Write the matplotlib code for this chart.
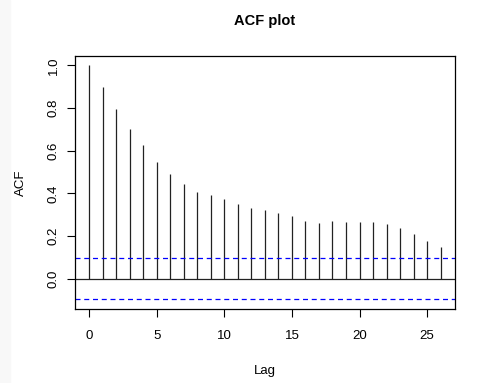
import numpy as np
import matplotlib
matplotlib.use('Agg')
import matplotlib.pyplot as plt
from matplotlib.patches import Rectangle

plt.rcParams['font.family'] = ['Liberation Sans', 'DejaVu Sans']

# autocorrelation values, lags 0..26
lags = list(range(27))
acf_vals = [1.0, 0.899, 0.797, 0.703, 0.627, 0.549, 0.489, 0.444, 0.409,
            0.394, 0.373, 0.352, 0.333, 0.322, 0.308, 0.295, 0.272, 0.262,
            0.269, 0.266, 0.264, 0.266, 0.255, 0.239, 0.211, 0.178, 0.147]
conf_bound = 0.096

fig = plt.figure(figsize=(4.78, 3.83), dpi=100)
# faint grey strip down the left edge
fig.patches.append(Rectangle((0, 0), 10 / 478, 1, transform=fig.transFigure,
                             color='#f8f8f8', zorder=0))
ax = fig.add_axes([75 / 478, 1 - 308.7 / 383, (454.7 - 75) / 478, (308.7 - 56) / 383])

ax.vlines(lags, 0, acf_vals, color='#222222', linewidth=0.9)
ax.axhline(0, color='#222222', linewidth=0.9)
ax.axhline(conf_bound, color='blue', linestyle=(0, (4, 3)), linewidth=0.9)
ax.axhline(-conf_bound, color='blue', linestyle=(0, (4, 3)), linewidth=0.9)

ax.set_xlim(-1.04, 27.04)
ax.set_ylim(-0.14, 1.044)
ax.set_xticks([0, 5, 10, 15, 20, 25])
ax.set_yticks([0.0, 0.2, 0.4, 0.6, 0.8, 1.0])
ax.set_yticklabels(['0.0', '0.2', '0.4', '0.6', '0.8', '1.0'], rotation=90, va='center')
ax.tick_params(axis='x', direction='out', length=6, width=0.8, labelsize=9.5, pad=9)
ax.tick_params(axis='y', direction='out', length=6, width=0.8, labelsize=9.5, pad=5)
for s in ax.spines.values():
    s.set_linewidth(0.9)

ax.set_title('ACF plot', fontsize=10.5, fontweight='bold', pad=22)
ax.set_xlabel('Lag', fontsize=9.5, labelpad=17)
ax.set_ylabel('ACF', fontsize=9.5, labelpad=15)

fig.savefig('out.png', dpi=100)
